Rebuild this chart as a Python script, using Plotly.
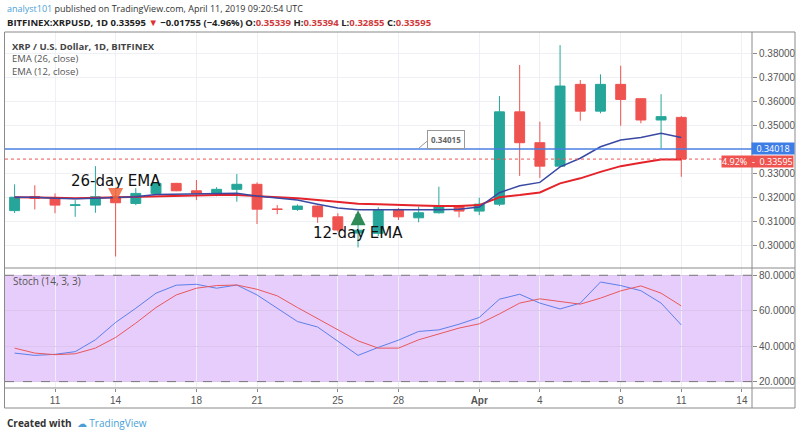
import pandas as pd
import plotly.graph_objects as go

# daily candles, Mar 9 .. Apr 11 2019
dates = pd.date_range("2019-03-09", "2019-04-11", freq="D")

opens = [0.3144, 0.3203, 0.3195, 0.3166, 0.3167, 0.3202, 0.3174, 0.3216, 0.3258, 0.3227,
         0.3216, 0.3233, 0.3254, 0.3151, 0.3149, 0.3163, 0.3118, 0.3050, 0.3049, 0.3149,
         0.3114, 0.3135, 0.3165, 0.3142, 0.3171, 0.3557, 0.3428, 0.3330, 0.3672, 0.3560,
         0.3672, 0.3612, 0.3523, 0.35339]
highs = [0.3254, 0.3250, 0.3216, 0.3188, 0.3330, 0.3233, 0.3238, 0.3263, 0.3260, 0.3272,
         0.3242, 0.3297, 0.3262, 0.3167, 0.3170, 0.3165, 0.3133, 0.3110, 0.3158, 0.3155,
         0.3160, 0.3244, 0.3168, 0.3198, 0.3623, 0.3753, 0.3516, 0.3836, 0.3690, 0.3714,
         0.3750, 0.3614, 0.3631, 0.35394]
lows = [0.3134, 0.3149, 0.3133, 0.3118, 0.3135, 0.2952, 0.3167, 0.3214, 0.3225, 0.3188,
        0.3204, 0.3181, 0.3088, 0.3129, 0.3143, 0.3093, 0.3056, 0.2990, 0.3038, 0.3105,
        0.3095, 0.3132, 0.3116, 0.3125, 0.3163, 0.3289, 0.3281, 0.3328, 0.3520, 0.3551,
        0.3499, 0.3509, 0.3404, 0.32855]
closes = [0.3200, 0.3195, 0.3167, 0.3168, 0.3202, 0.3177, 0.3216, 0.3258, 0.3227, 0.3216,
          0.3233, 0.3254, 0.3150, 0.3149, 0.3163, 0.3118, 0.3063, 0.3062, 0.3146, 0.3118,
          0.3135, 0.3165, 0.3142, 0.3171, 0.3557, 0.3428, 0.3330, 0.3665, 0.3560, 0.3672,
          0.3609, 0.3523, 0.3537, 0.33595]

ema26 = [0.3200, 0.3200, 0.3198, 0.3196, 0.3198, 0.3198, 0.3200, 0.3205, 0.3207, 0.3207,
         0.3209, 0.3209, 0.3205, 0.3200, 0.3196, 0.3188, 0.3180, 0.3173, 0.3171, 0.3167,
         0.3165, 0.3163, 0.3163, 0.3167, 0.3200, 0.3209, 0.3220, 0.3258, 0.3279, 0.3306,
         0.3330, 0.3344, 0.3358, 0.3358]
ema12 = [0.3200, 0.3200, 0.3196, 0.3194, 0.3196, 0.3198, 0.3202, 0.3211, 0.3213, 0.3213,
         0.3215, 0.3217, 0.3205, 0.3196, 0.3188, 0.3171, 0.3155, 0.3148, 0.3148, 0.3146,
         0.3146, 0.3148, 0.3150, 0.3159, 0.3219, 0.3248, 0.3262, 0.3327, 0.3363, 0.3411,
         0.3439, 0.3450, 0.3467, 0.3450]

stoch_k = [36.1, 34.8, 35.4, 36.9, 43.6, 53.4, 61.4, 69.9, 74.4, 74.9,
           72.7, 74.5, 68.9, 61.4, 53.9, 50.8, 42.7, 34.8, 39.3, 43.4,
           48.3, 49.2, 52.4, 56.2, 66.5, 69.3, 64.3, 61.0, 64.3, 76.2,
           74.2, 71.3, 64.3, 52.0]
stoch_d = [38.9, 36.1, 35.2, 35.7, 38.9, 44.9, 53.0, 61.8, 68.9, 72.7,
           74.2, 74.5, 72.1, 68.4, 61.8, 55.4, 49.2, 43.0, 38.9, 38.9,
           43.6, 47.0, 50.2, 52.6, 58.2, 64.3, 66.7, 65.2, 63.7, 67.1,
           71.2, 74.0, 69.9, 62.7]

tick_dates = ["2019-03-11", "2019-03-14", "2019-03-18", "2019-03-21", "2019-03-25", "2019-03-28",
              "2019-04-01", "2019-04-04", "2019-04-08", "2019-04-11", "2019-04-14"]
tick_text = ["11", "14", "18", "21", "25", "28", "<b>Apr</b>", "4", "8", "11", "14"]
# 0.34 label sits under the line label box, so it is left out
price_ticks = [0.30, 0.31, 0.32, 0.33, 0.35, 0.36, 0.37, 0.38]
stoch_ticks = [20, 40, 60, 80]

line_level = 0.34018
callout_level = 0.34015
last_close = 0.33595

# drawn arrows: (date, tip price)
arrow_down = ("2019-03-14", 0.3176)
arrow_up = ("2019-03-26", 0.3146)

GREEN = "#26a69a"
RED = "#ef5350"
GRID = "#edf1f5"
AXIS = "#8a8a8a"
TXT = "#555555"


# pixel helpers for the 800x436 canvas (plot area x 5..752, y 32..388)
def px(x):
    return (x - 5) / 747


def py(y):
    return (388 - y) / 356


fig = go.Figure()

fig.add_trace(go.Candlestick(
    x=dates, open=opens, high=highs, low=lows, close=closes,
    increasing=dict(line=dict(color=GREEN, width=1), fillcolor=GREEN),
    decreasing=dict(line=dict(color=RED, width=1), fillcolor=RED),
    whiskerwidth=0, showlegend=False, xaxis="x", yaxis="y"))

fig.add_trace(go.Scatter(x=dates, y=ema26, mode="lines", line=dict(color="#e4232a", width=2),
                         showlegend=False, xaxis="x", yaxis="y"))
fig.add_trace(go.Scatter(x=dates, y=ema12, mode="lines", line=dict(color="#3949a3", width=1.5),
                         showlegend=False, xaxis="x", yaxis="y"))

fig.add_trace(go.Scatter(x=dates, y=stoch_k, mode="lines", line=dict(color="#5b80ea", width=1),
                         showlegend=False, xaxis="x", yaxis="y2"))
fig.add_trace(go.Scatter(x=dates, y=stoch_d, mode="lines", line=dict(color="#e8585c", width=1),
                         showlegend=False, xaxis="x", yaxis="y2"))

shapes = [
    # stoch band
    dict(type="rect", xref="paper", yref="y2", x0=0, x1=1, y0=20, y1=80,
         fillcolor="#e7cdfb", line=dict(width=0), layer="below"),
    dict(type="line", xref="paper", yref="y2", x0=0, x1=1, y0=80, y1=80,
         line=dict(color="#777777", width=1, dash="dash")),
    dict(type="line", xref="paper", yref="y2", x0=0, x1=1, y0=20, y1=20,
         line=dict(color="#777777", width=1, dash="dash")),
    # horizontal price lines
    dict(type="line", xref="paper", yref="y", x0=0, x1=1, y0=line_level, y1=line_level,
         line=dict(color="#4a7fe3", width=1.5)),
    dict(type="line", xref="paper", yref="y", x0=0, x1=1, y0=last_close, y1=last_close,
         line=dict(color=RED, width=1, dash="dot")),
    # frame and separators
    dict(type="rect", xref="paper", yref="paper", x0=px(4.5), x1=px(795), y0=py(408), y1=py(32),
         line=dict(color=AXIS, width=1)),
    dict(type="line", xref="paper", yref="paper", x0=px(4.5), x1=px(795), y0=py(268), y1=py(268),
         line=dict(color=AXIS, width=1)),
    dict(type="line", xref="paper", yref="paper", x0=px(4.5), x1=px(795), y0=py(388), y1=py(388),
         line=dict(color=AXIS, width=1)),
    dict(type="line", xref="paper", yref="paper", x0=px(752), x1=px(752), y0=py(408), y1=py(32),
         line=dict(color=AXIS, width=1)),
    # callout pointer
    dict(type="line", xref="paper", yref="paper", x0=px(419), x1=px(432), y0=py(148), y1=py(137),
         line=dict(color="#999999", width=1)),
]

FONT = "Open Sans"
ann = []
ann.append(dict(xref="paper", yref="paper", x=px(5), y=py(8), xanchor="left", yanchor="middle",
                showarrow=False, font=dict(family=FONT, size=9, color="#333333"),
                text="<span style='color:#4a9fd6'>analyst101</span> published on TradingView.com, "
                     "April 11, 2019 09:20:54 UTC"))
ann.append(dict(xref="paper", yref="paper", x=px(5), y=py(22), xanchor="left", yanchor="middle",
                showarrow=False, font=dict(family=FONT, size=9.5, color="#222222"),
                text="<b>BITFINEX:XRPUSD, 1D 0.33595 <span style='color:#e03030'>▼</span> "
                     "−0.01755 (−4.96%) O:<span style='color:#d03a3a'>0.35339</span> "
                     "H:<span style='color:#d03a3a'>0.35394</span> "
                     "L:<span style='color:#d03a3a'>0.32855</span> "
                     "C:<span style='color:#d03a3a'>0.33595</span></b>"))
# indicator legend block, top left of each pane
ann.append(dict(xref="paper", yref="paper", x=px(11), y=py(39), xanchor="left", yanchor="top",
                align="left", showarrow=False, borderpad=0,
                font=dict(family=FONT, size=9.5, color=TXT),
                text="<span style='color:#444444'><b>XRP / U.S. Dollar, 1D, BITFINEX</b></span>"
                     "<br>EMA (26, close)<br>EMA (12, close)"))
ann.append(dict(xref="paper", yref="paper", x=px(11), y=py(281), xanchor="left", yanchor="middle",
                showarrow=False, font=dict(family=FONT, size=10, color=TXT), text="Stoch (14, 3, 3)"))

# chart texts
ann.append(dict(x="2019-03-14", y=0.3268, xref="x", yref="y", showarrow=False,
                font=dict(family="DejaVu Sans", size=15, color="#111111"), text="26-day EMA"))
ann.append(dict(x="2019-03-26", y=0.3050, xref="x", yref="y", showarrow=False,
                font=dict(family="DejaVu Sans", size=15, color="#111111"), text="12-day EMA"))

# block arrows
ann.append(dict(x=arrow_down[0], y=arrow_down[1], xref="x", yref="y", ax=0, ay=-14,
                showarrow=True, arrowhead=2, arrowsize=0.6, arrowwidth=5,
                arrowcolor="rgba(240,100,60,0.85)", text=""))
ann.append(dict(x=arrow_up[0], y=arrow_up[1], xref="x", yref="y", ax=0, ay=14,
                showarrow=True, arrowhead=2, arrowsize=0.6, arrowwidth=5,
                arrowcolor="#2e8b57", text=""))

# callout box
ann.append(dict(xref="paper", yref="paper", x=px(446), y=py(130), showarrow=False,
                text="<b>%.5f</b>" % callout_level, font=dict(family=FONT, size=8, color="#666666"),
                bgcolor="white", bordercolor="#999999", borderwidth=1, borderpad=3))

# price labels on the axis
ann.append(dict(xref="paper", yref="paper", x=px(795), y=py(148), xanchor="right", yanchor="middle",
                showarrow=False, text="%.5f" % line_level, font=dict(family=FONT, size=9, color="white"),
                bgcolor="#3d7de6", borderpad=0, width=42, height=11))
ann.append(dict(xref="paper", yref="paper", x=px(794), y=py(161), xanchor="right", yanchor="middle",
                showarrow=False, text="4.92%%  -  %.5f" % last_close,
                font=dict(family=FONT, size=9, color="white"), bgcolor=RED, borderpad=0, height=11))

# footer
ann.append(dict(xref="paper", yref="paper", x=px(5), y=py(423), xanchor="left", yanchor="middle",
                showarrow=False, font=dict(family=FONT, size=10, color="#333333"),
                text="<b>Created with</b>  <span style='color:#4a9fd6'>☁ TradingView</span>"))

fig.update_layout(
    width=800, height=436,
    margin=dict(l=5, r=48, t=32, b=48),
    paper_bgcolor="white", plot_bgcolor="white",
    shapes=shapes, annotations=ann,
    xaxis=dict(type="date", range=["2019-03-08 12:36", "2019-04-14 12:00"],
               tickvals=tick_dates, ticktext=tick_text, anchor="y2",
               showgrid=True, gridcolor=GRID, ticks="outside", ticklen=3, tickcolor=AXIS,
               tickfont=dict(family="Liberation Sans", size=10, color=TXT),
               rangeslider=dict(visible=False), zeroline=False, showline=False),
    yaxis=dict(domain=[py(268), 1], range=[0.2904, 0.3891], side="right", anchor="x",
               tickvals=price_ticks, tickformat=".5f", showgrid=True, gridcolor=GRID,
               ticks="outside", ticklen=4, tickcolor=AXIS, zeroline=False,
               tickfont=dict(family="Liberation Sans", size=10, color=TXT)),
    yaxis2=dict(domain=[0, py(268)], range=[16.4, 84.1], side="right", anchor="x",
                tickvals=stoch_ticks, tickformat=".4f", showgrid=True, gridcolor="#dcc6ee",
                ticks="outside", ticklen=4, tickcolor=AXIS, zeroline=False,
                tickfont=dict(family="Liberation Sans", size=10, color=TXT)),
)

# page body has a default 8px margin; drop it so the figure sits at the window corner
fig.write_html("out.html", config={"displayModeBar": False},
               post_script="document.body.style.margin='0px';")
